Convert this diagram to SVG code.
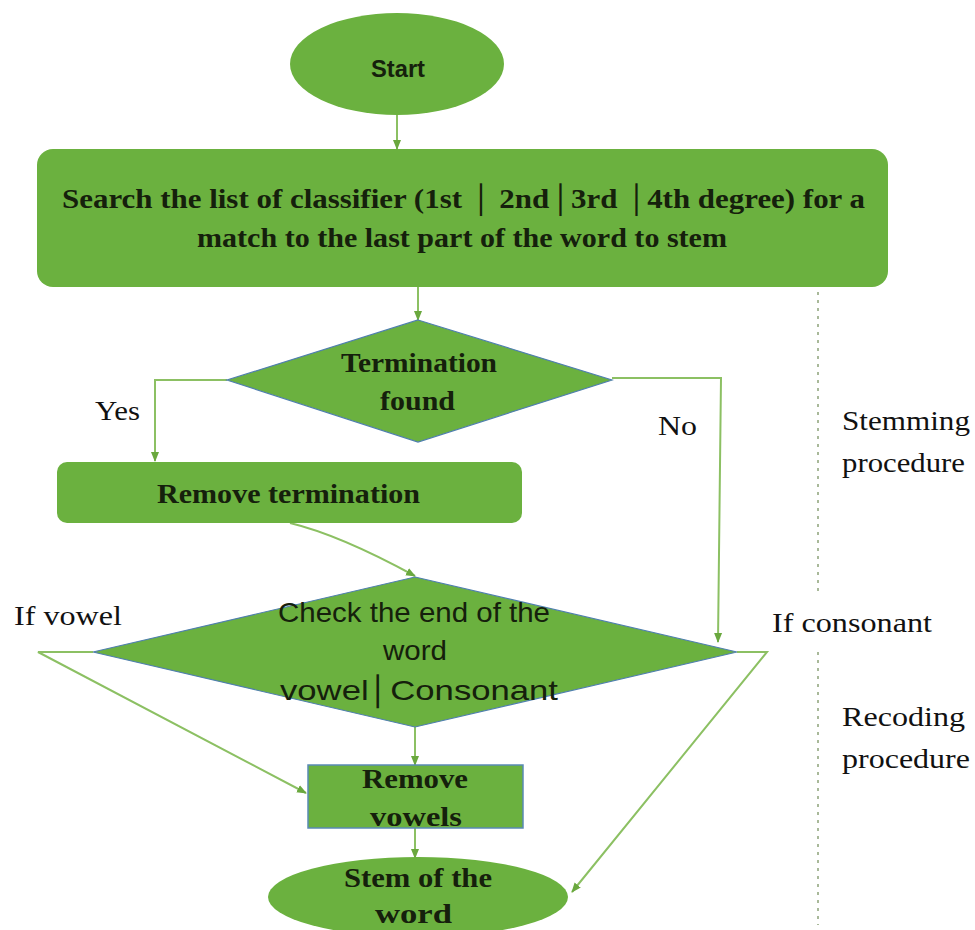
<svg xmlns="http://www.w3.org/2000/svg" width="975" height="930" viewBox="0 0 975 930">
<style>
.node{fill:#6bb13f}
.dia{fill:#6bb13f;stroke:#4f7fae;stroke-width:1.2}
.conn{fill:none;stroke:#8cc063;stroke-width:2}
.b{font-family:"Liberation Serif",serif;font-weight:bold;fill:#15200c;font-size:27px}
.s{font-family:"Liberation Sans",Arial,sans-serif;fill:#15200c;font-size:28px}
.lbl{font-family:"Liberation Serif",serif;fill:#111;font-size:28px}
</style>
<defs>
<marker id="ah" viewBox="0 0 10 10" refX="9" refY="5" markerWidth="5" markerHeight="5" orient="auto">
<path d="M0,1 L10,5 L0,9 z" fill="#6aa83e"/>
</marker>
</defs>
<rect width="975" height="930" fill="#fff"/>
<g id="connectors">
<line class="conn" x1="397" y1="115" x2="397" y2="149" marker-end="url(#ah)"/>
<line class="conn" x1="418" y1="287" x2="418" y2="320" marker-end="url(#ah)"/>
<polyline class="conn" points="227,380 155,380 155,461" marker-end="url(#ah)"/>
<polyline class="conn" points="612,378 721,378 718,642" marker-end="url(#ah)"/>
<path class="conn" d="M290,523 Q340,535 415,576" marker-end="url(#ah)"/>
<polyline class="conn" points="93,652 38,652 306,793" marker-end="url(#ah)"/>
<polyline class="conn" points="737,652 767,652 572,892" marker-end="url(#ah)"/>
<line class="conn" x1="415" y1="727" x2="415" y2="765" marker-end="url(#ah)"/>
<line class="conn" x1="415" y1="828" x2="415" y2="858" marker-end="url(#ah)"/>
</g>
<g id="divider">
<line x1="818" y1="292" x2="818" y2="594" stroke="#a9b99a" stroke-width="2" stroke-dasharray="3,5"/>
<line x1="818" y1="652" x2="818" y2="925" stroke="#a9b99a" stroke-width="2" stroke-dasharray="3,5"/>
</g>
<g id="start">
<ellipse class="node" cx="397" cy="64" rx="107" ry="51"/>
<text x="371" y="77" font-family="Liberation Sans,Arial,sans-serif" font-weight="bold" font-size="24" fill="#15200c" textLength="54" lengthAdjust="spacingAndGlyphs">Start</text>
</g>
<g id="search">
<rect class="node" x="37" y="149" width="851" height="138" rx="16"/>
<text class="b" x="62" y="208" textLength="803" lengthAdjust="spacingAndGlyphs">Search the list of classifier (1st  │ 2nd│3rd  │4th degree) for a</text>
<text class="b" x="197" y="247" textLength="530" lengthAdjust="spacingAndGlyphs">match to the last part of the word to stem</text>
</g>
<g id="termination">
<polygon class="dia" points="418,320 612,380 418,442 227,380"/>
<text class="b" x="341" y="372" textLength="156" lengthAdjust="spacingAndGlyphs">Termination</text>
<text class="b" x="380" y="410" textLength="75" lengthAdjust="spacingAndGlyphs">found</text>
</g>
<g id="remove-termination">
<rect class="node" x="57" y="462" width="465" height="61" rx="10"/>
<text class="b" x="157" y="503" textLength="263" lengthAdjust="spacingAndGlyphs">Remove termination</text>
</g>
<g id="check">
<polygon class="dia" points="415,577 737,652 415,727 93,652"/>
<text class="s" x="278" y="622" textLength="272" lengthAdjust="spacingAndGlyphs">Check the end of the</text>
<text class="s" x="383" y="660" textLength="64" lengthAdjust="spacingAndGlyphs">word</text>
<text class="s" x="280" y="700" textLength="278" lengthAdjust="spacingAndGlyphs">vowel│Consonant</text>
</g>
<g id="remove-vowels">
<rect x="308" y="765" width="215" height="63" fill="#6bb13f" stroke="#5a8ab5" stroke-width="1.5"/>
<text class="b" x="362" y="788" textLength="106" lengthAdjust="spacingAndGlyphs">Remove</text>
<text class="b" x="370" y="826" textLength="92" lengthAdjust="spacingAndGlyphs">vowels</text>
</g>
<g id="stem">
<ellipse class="node" cx="418" cy="897" rx="150" ry="40"/>
<text class="b" x="344" y="887" textLength="148" lengthAdjust="spacingAndGlyphs">Stem of the</text>
<text class="b" x="375" y="923" textLength="77" lengthAdjust="spacingAndGlyphs">word</text>
</g>
<g id="labels">
<text class="lbl" x="95" y="420" textLength="45" lengthAdjust="spacingAndGlyphs">Yes</text>
<text class="lbl" x="658" y="435" textLength="39" lengthAdjust="spacingAndGlyphs">No</text>
<text class="lbl" x="842" y="430" textLength="128" lengthAdjust="spacingAndGlyphs">Stemming</text>
<text class="lbl" x="842" y="472" textLength="123" lengthAdjust="spacingAndGlyphs">procedure</text>
<text class="lbl" x="14" y="625" textLength="108" lengthAdjust="spacingAndGlyphs">If vowel</text>
<text class="lbl" x="772" y="632" textLength="160" lengthAdjust="spacingAndGlyphs">If consonant</text>
<text class="lbl" x="842" y="726" textLength="123" lengthAdjust="spacingAndGlyphs">Recoding</text>
<text class="lbl" x="842" y="768" textLength="128" lengthAdjust="spacingAndGlyphs">procedure</text>
</g>
</svg>
